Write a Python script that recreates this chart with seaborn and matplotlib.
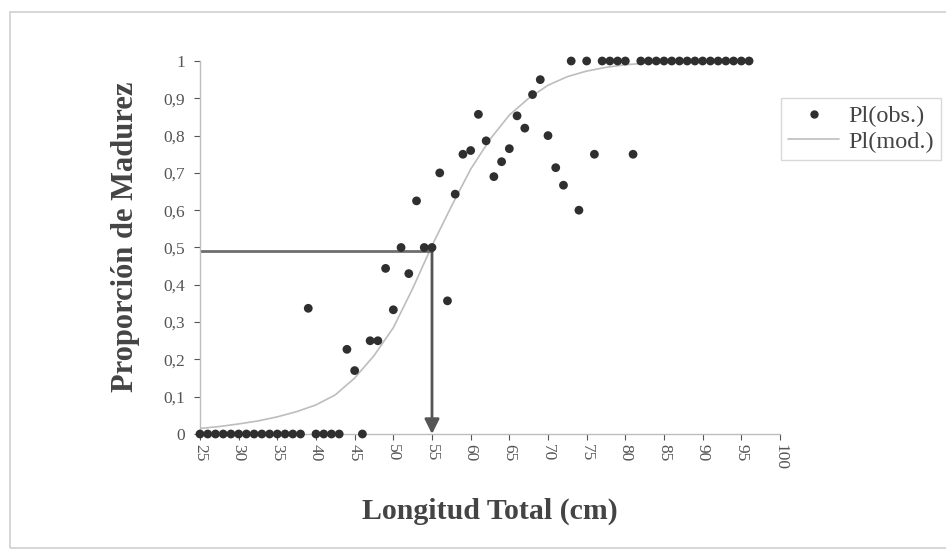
import numpy as np
import pandas as pd
import matplotlib
matplotlib.use("Agg")
import matplotlib.pyplot as plt
import seaborn as sns

# observed proportion of mature fish by total length (cm)
longitud = list(range(25, 97))
pl_obs = ([0] * 14 + [0.337] + [0, 0, 0, 0] + [0.227, 0.17, 0, 0.25, 0.25, 0.444, 0.333,
          0.5, 0.43, 0.625, 0.5, 0.5, 0.7, 0.357, 0.643, 0.75, 0.76, 0.857, 0.786,
          0.69, 0.73, 0.765, 0.853, 0.82, 0.91, 0.95, 0.8, 0.714, 0.667, 1, 0.6, 1,
          0.75, 1, 1, 1, 1, 0.75] + [1] * 15)

# modelled curve
long_mod = [25, 27.5, 30, 32.5, 35, 37.5, 40, 42.5, 45, 47.5, 50, 52.5, 55, 57.5, 60,
            62.5, 65, 67.5, 70, 72.5, 75, 77.5, 80, 82.5, 85, 87.5, 90, 92.5, 95]
pl_mod = [0.015, 0.02, 0.027, 0.035, 0.046, 0.06, 0.078, 0.105, 0.15, 0.21, 0.285,
          0.39, 0.505, 0.61, 0.71, 0.79, 0.855, 0.9, 0.935, 0.958, 0.973, 0.983, 0.99,
          0.994, 0.997, 0.998, 0.999, 0.999, 1.0]

l50 = 55
p50 = 0.49

x_ticks = list(range(25, 101, 5))
y_ticks = [0, 0.1, 0.2, 0.3, 0.4, 0.5, 0.6, 0.7, 0.8, 0.9, 1]
y_labels = ["0", "0,1", "0,2", "0,3", "0,4", "0,5", "0,6", "0,7", "0,8", "0,9", "1"]

obs = pd.DataFrame({"x": longitud, "y": pl_obs})
mod = pd.DataFrame({"x": long_mod, "y": pl_mod})

sns.set_style("white")
plt.rcParams["font.family"] = ["Liberation Serif", "DejaVu Serif"]

fig = plt.figure(figsize=(9.46, 5.5), dpi=100)
ax = fig.add_axes([200 / 946, 116 / 550, 580 / 946, 373 / 550])

# light frame around whole chart
fig.patches.append(plt.Rectangle((10 / 946, 2 / 550), 940 / 946, 536 / 550,
                                 transform=fig.transFigure, fill=False,
                                 edgecolor="#cfcfcf", linewidth=1.2))

sns.lineplot(data=mod, x="x", y="y", ax=ax, color="#bdbdbd", linewidth=1.2)
sns.scatterplot(data=obs, x="x", y="y", ax=ax, color="#2f2f2f", s=40,
                edgecolor="none", clip_on=False, zorder=3)

# L50 guides
ax.plot([25, l50], [p50, p50], color="#6e6e6e", linewidth=2, zorder=2)
ax.annotate("", xy=(l50, 0), xytext=(l50, p50),
            arrowprops=dict(arrowstyle="-|>", color="#555555", lw=2,
                            mutation_scale=22, shrinkA=0, shrinkB=0), zorder=2)

ax.set_xlim(25, 100)
ax.set_ylim(0, 1)
ax.set_xticks(x_ticks)
ax.set_xticklabels([str(v) for v in x_ticks], rotation=-90)
ax.set_yticks(y_ticks)
ax.set_yticklabels(y_labels)
ax.tick_params(axis="both", labelsize=12.5, colors="#555555", length=4,
               width=0.8, direction="out", bottom=True, left=True)
ax.tick_params(axis="x", pad=3)
ax.tick_params(axis="y", pad=7)

for side in ["top", "right"]:
    ax.spines[side].set_visible(False)
for side in ["left", "bottom"]:
    ax.spines[side].set_color("#bdbdbd")
    ax.spines[side].set_linewidth(1)

ax.set_xlabel("Longitud Total (cm)", fontsize=21.5, fontweight="bold",
              color="#444444", labelpad=20)
ax.set_ylabel("Proporción de Madurez", fontsize=22, fontweight="bold",
              color="#444444")
ax.yaxis.set_label_coords(-0.103, 0.53)

handles = [
    plt.Line2D([], [], marker="o", linestyle="none", color="#2f2f2f", markersize=5),
    plt.Line2D([], [], color="#bdbdbd", linewidth=1.2),
]
leg = fig.legend(handles, ["Pl(obs.)", "Pl(mod.)"], loc="upper left",
                 bbox_to_anchor=(781 / 946, 1 - 98 / 550), frameon=True,
                 fancybox=False, fontsize=17.5, handlelength=2.1,
                 labelspacing=0.15, borderpad=0.3, handletextpad=0.35,
                 borderaxespad=0)
leg.get_frame().set_edgecolor("#cfcfcf")
leg.get_frame().set_linewidth(1)
for t in leg.get_texts():
    t.set_color("#444444")

fig.savefig("out.png", dpi=100)
